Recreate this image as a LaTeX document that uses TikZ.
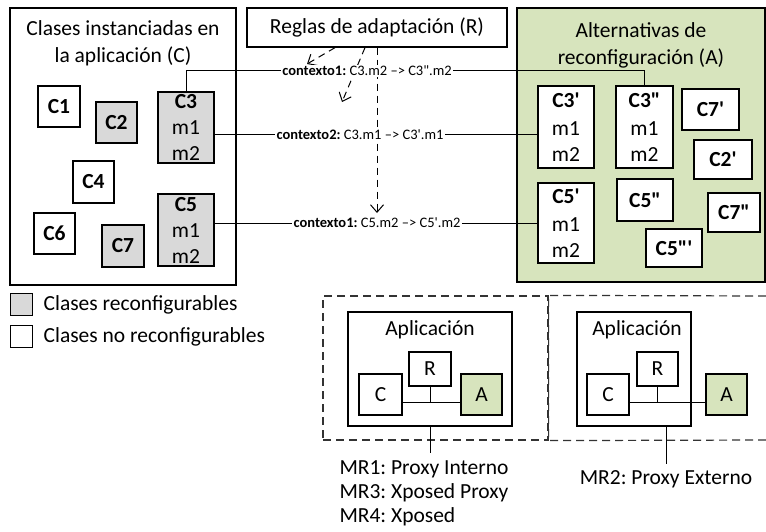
\documentclass[tikz,border=0pt]{standalone}
\usepackage{fontspec}
\setmainfont{Carlito}[Ligatures=TeXOff]
\usetikzlibrary{arrows.meta,positioning}
\definecolor{altgreen}{HTML}{D7E4BD}
\definecolor{recgray}{HTML}{D9D9D9}
\frenchspacing
\tikzset{
    cls/.style={
           rectangle,
           draw=black,
           line width=1.3pt,
           inner sep=0pt,
           align=center,
           font=\fontsize{21.5}{26}\selectfont,
           },
    txt/.style={
           inner sep=0pt,
           align=center,
           font=\fontsize{21.5}{27}\selectfont,
           },
}

\begin{document}
\begin{tikzpicture}[
  x=1pt,y=-1pt,
  >={Straight Barb[length=7.5pt,width=13pt]},
  line width=1pt,
  recon/.style={fill=recgray},
  alt/.style={fill=altgreen},
  ctx/.style={fill=white,inner sep=1pt,font=\fontsize{14.5}{16}\selectfont},
  rule/.style={->,dash pattern=on 7pt off 5pt,line width=1pt},
  frame/.style={dash pattern=on 8pt off 5pt,line width=1.2pt,draw=black!80}]
\useasboundingbox (0,0) rectangle (766,532);

% containers
\node[cls,minimum width=226pt,minimum height=277pt](clases) at (123,146.5){};
\node[cls,minimum width=260pt,minimum height=39pt](reglas) at (377,27.5){Reglas de adaptación (R)};
\node[cls,alt,minimum width=248pt,minimum height=274pt](alts) at (641,145){};
\node[txt,below=13pt of clases.north](clasestit){Clases instanciadas en\\la aplicación (C)};
\node[txt,below=15pt of alts.north](altstit){Alternativas de\\reconfiguración (A)};

% instantiated classes
\node[cls,minimum width=42pt,minimum height=41pt](c1) at (59,106.5){\textbf{C1}};
\node[cls,recon,minimum width=41pt,minimum height=41pt](c2) at (116.5,122.5){\textbf{C2}};
\node[cls,recon,minimum width=56pt,minimum height=71pt](c3) at (186,127.5){\textbf{C3}\\m1\\m2};
\node[cls,minimum width=41pt,minimum height=42pt](c4) at (93.5,182){\textbf{C4}};
\node[cls,recon,minimum width=56pt,minimum height=72pt](c5) at (186,230){\textbf{C5}\\m1\\m2};
\node[cls,minimum width=41pt,minimum height=41pt](c6) at (54.5,233.5){\textbf{C6}};
\node[cls,recon,minimum width=42pt,minimum height=42pt](c7) at (123,246){\textbf{C7}};

% alternatives
\node[cls,fill=white,minimum width=56pt,minimum height=82pt](c3p) at (566,127){\textbf{C3'}\\[2pt]m1\\m2};
\node[cls,fill=white,minimum width=57pt,minimum height=82pt](c3pp) at (644.5,127){\textbf{C3"}\\[2pt]m1\\m2};
\node[cls,fill=white,minimum width=57pt,minimum height=41pt](c7p) at (710.5,109.5){\textbf{C7'}};
\node[cls,fill=white,minimum width=58pt,minimum height=39pt](c2p) at (723,159.5){\textbf{C2'}};
\node[cls,fill=white,minimum width=56pt,minimum height=80pt](c5p) at (566,223){\textbf{C5'}\\[2pt]m1\\m2};
\node[cls,fill=white,minimum width=56pt,minimum height=42pt](c5pp) at (645,200){\textbf{C5"}};
\node[cls,fill=white,minimum width=52pt,minimum height=39pt](c7pp) at (734,212.5){\textbf{C7"}};
\node[cls,fill=white,minimum width=56pt,minimum height=38pt](c5ppp) at (674,248){\textbf{C5"'}};

% adaptation rules
\coordinate (rulea) at (307,64);
\coordinate (ruleb) at (342,102);
\coordinate (rulec) at (377,213);
\draw[rule] ([xshift=-42pt]reglas.south) -- (rulea);
\draw[rule] ([xshift=-12pt]reglas.south) -- (ruleb);
\draw[rule] (reglas.south) -- (rulec);

\node[ctx](ctxa) at (367,71){\textbf{contexto1:} C3.m2 \textendash> C3".m2};
\node[ctx](ctxb) at (360,135){\textbf{contexto2:} C3.m1 \textendash> C3'.m1};
\node[ctx](ctxc) at (377,223){\textbf{contexto1:} C5.m2 \textendash> C5'.m2};

\draw (c3.north) |- (ctxa.west);
\draw (ctxa.east) -| (c3pp.north);
\draw (c3.east |- ctxb.west) -- (ctxb.west);
\draw (ctxb.east) -- (c3p.west |- ctxb.east);
\draw (c5.east |- ctxc.west) -- (ctxc.west);
\draw (ctxc.east) -- (c5p.west |- ctxc.east);

% legend
\node[cls,recon,minimum size=22pt](legrec) at (21.5,304.5){};
\node[cls,minimum size=22pt,below=9pt of legrec](legno){};
\node[txt,right=10pt of legrec](legrectxt){Clases reconfigurables};
\node[txt,right=10pt of legno](legnotxt){Clases no reconfigurables};

% mechanisms
\node[frame,minimum width=225pt,minimum height=144pt](grp1) at (435.5,368){};
\draw[frame] (766,296) -- (grp1.north east) -- (grp1.south east) -- (766,440);

\node[cls,minimum width=164pt,minimum height=114pt](app1) at (430,369){};
\node[txt,below=9pt of app1.north](app1tit){Aplicación};
\node[cls,minimum width=42pt,minimum height=34pt](r1) at (430,369){R};
\node[cls,minimum width=43pt,minimum height=41pt](ca1) at (380.5,394.5){C};
\node[cls,alt,minimum width=41pt,minimum height=41pt](aa1) at (481.5,394.5){A};
\draw ([yshift=-7.5pt]ca1.east) coordinate (j1) -- ([yshift=-7.5pt]aa1.west);
\draw (r1.south) -- (r1.south |- j1);
\coordinate[below=26pt of app1.south](mr1end);
\draw (app1.south) -- (mr1end);
\node[txt,align=left,font=\fontsize{21.5}{24}\selectfont,below=8pt of mr1end,xshift=-6pt](mr1){MR1: Proxy Interno\\MR3: Xposed Proxy\\MR4: Xposed};

\node[cls,minimum width=114pt,minimum height=114pt](app2) at (634,369){};
\node[txt,below=9pt of app2.north,xshift=3pt](app2tit){Aplicación};
\node[cls,minimum width=41pt,minimum height=34pt](r2) at (657.5,369){R};
\node[cls,minimum width=42pt,minimum height=41pt](ca2) at (608,394.5){C};
\node[cls,alt,minimum width=41pt,minimum height=41pt](aa2) at (726.5,394.5){A};
\draw ([yshift=-7.5pt]ca2.east) coordinate (j2) -- ([yshift=-7.5pt]aa2.west);
\draw (r2.south) -- (r2.south |- j2);
\coordinate[below=37pt of app2.south,xshift=32pt](mr2end);
\draw (app2.south -| mr2end) -- (mr2end);
\node[txt,below=6pt of mr2end](mr2){MR2: Proxy Externo};
\end{tikzpicture}
\end{document}
